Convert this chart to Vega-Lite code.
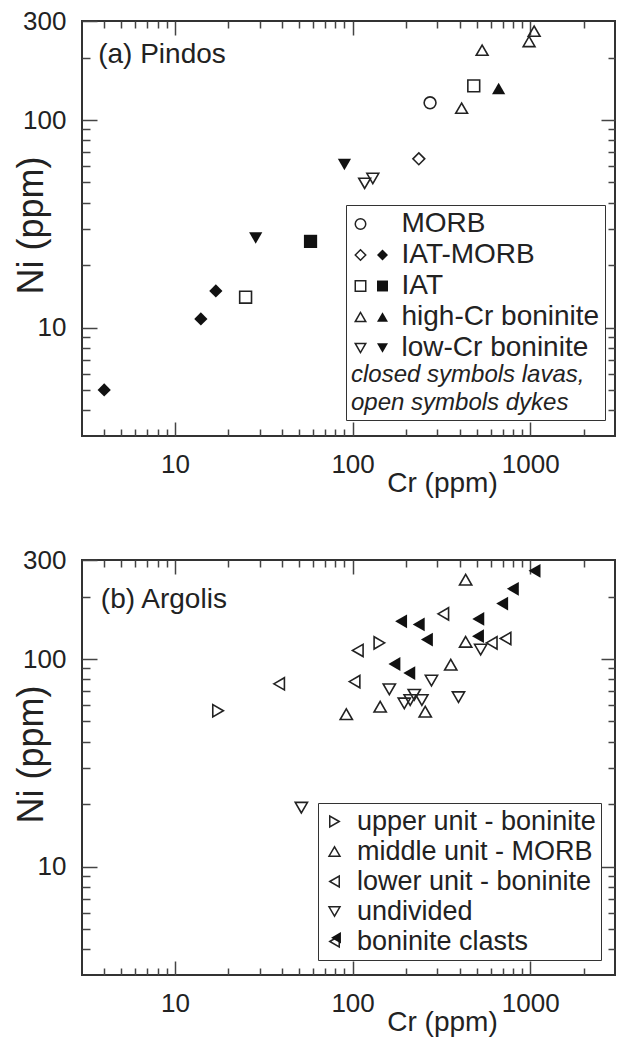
{
  "$schema": "https://vega.github.io/schema/vega-lite/v6.json",
  "padding": {"left": 12, "top": 7, "right": 0, "bottom": 0},
  "bounds": "flush",
  "spacing": 124,
  "config": {
    "font": "Liberation Sans",
    "view": {"stroke": "#333", "strokeWidth": 2},
    "axis": {
      "grid": false, "domain": false,
      "labelFont": "Liberation Sans", "labelFontSize": 26, "labelColor": "#222",
      "tickColor": "#444", "tickWidth": 1.5,
      "titleFont": "Liberation Sans", "titleFontWeight": "normal", "titleColor": "#222",
      "labelFlush": false, "labelOverlap": false
    },
    "legend": {
      "labelFont": "Liberation Sans", "titleFont": "Liberation Sans",
      "labelColor": "#222", "titleColor": "#222", "labelLimit": 400, "titleLimit": 400
    }
  },
  "datasets": {
    "pindos": [
      {"Cr": 4, "Ni": 5, "type": "IAT-MORB", "form": "lava"},
      {"Cr": 14, "Ni": 11, "type": "IAT-MORB", "form": "lava"},
      {"Cr": 17, "Ni": 15, "type": "IAT-MORB", "form": "lava"},
      {"Cr": 58, "Ni": 26, "type": "IAT", "form": "lava"},
      {"Cr": 28.5, "Ni": 27, "type": "low-Cr boninite", "form": "lava"},
      {"Cr": 90, "Ni": 61, "type": "low-Cr boninite", "form": "lava"},
      {"Cr": 664, "Ni": 142, "type": "high-Cr boninite", "form": "lava"},
      {"Cr": 25, "Ni": 14, "type": "IAT", "form": "dyke"},
      {"Cr": 481, "Ni": 146, "type": "IAT", "form": "dyke"},
      {"Cr": 117, "Ni": 49.5, "type": "low-Cr boninite", "form": "dyke"},
      {"Cr": 130, "Ni": 52.3, "type": "low-Cr boninite", "form": "dyke"},
      {"Cr": 236, "Ni": 65, "type": "IAT-MORB", "form": "dyke"},
      {"Cr": 273, "Ni": 121, "type": "MORB", "form": "dyke"},
      {"Cr": 411, "Ni": 114, "type": "high-Cr boninite", "form": "dyke"},
      {"Cr": 536, "Ni": 217, "type": "high-Cr boninite", "form": "dyke"},
      {"Cr": 985, "Ni": 239, "type": "high-Cr boninite", "form": "dyke"},
      {"Cr": 1052, "Ni": 268, "type": "high-Cr boninite", "form": "dyke"}
    ],
    "argolis": [
      {"Cr": 17.5, "Ni": 56.3, "group": "upper unit - boninite"},
      {"Cr": 141.6, "Ni": 119.6, "group": "upper unit - boninite"},
      {"Cr": 433, "Ni": 241, "group": "middle unit - MORB"},
      {"Cr": 433, "Ni": 121, "group": "middle unit - MORB"},
      {"Cr": 357, "Ni": 93.8, "group": "middle unit - MORB"},
      {"Cr": 92.2, "Ni": 54.2, "group": "middle unit - MORB"},
      {"Cr": 143, "Ni": 58.9, "group": "middle unit - MORB"},
      {"Cr": 256.5, "Ni": 55.7, "group": "middle unit - MORB"},
      {"Cr": 38.6, "Ni": 75.9, "group": "lower unit - boninite"},
      {"Cr": 324, "Ni": 165, "group": "lower unit - boninite"},
      {"Cr": 107, "Ni": 110, "group": "lower unit - boninite"},
      {"Cr": 102.6, "Ni": 77.8, "group": "lower unit - boninite"},
      {"Cr": 607, "Ni": 119.6, "group": "lower unit - boninite"},
      {"Cr": 726, "Ni": 125.6, "group": "lower unit - boninite"},
      {"Cr": 51.5, "Ni": 19.2, "group": "undivided"},
      {"Cr": 526, "Ni": 111, "group": "undivided"},
      {"Cr": 278, "Ni": 78.7, "group": "undivided"},
      {"Cr": 161, "Ni": 71.5, "group": "undivided"},
      {"Cr": 394.6, "Ni": 65.5, "group": "undivided"},
      {"Cr": 195.5, "Ni": 61.1, "group": "undivided"},
      {"Cr": 211, "Ni": 63.4, "group": "undivided"},
      {"Cr": 222.5, "Ni": 67.2, "group": "undivided"},
      {"Cr": 245.5, "Ni": 63.4, "group": "undivided"},
      {"Cr": 1057, "Ni": 266, "group": "boninite clasts"},
      {"Cr": 798, "Ni": 218, "group": "boninite clasts"},
      {"Cr": 695, "Ni": 185, "group": "boninite clasts"},
      {"Cr": 510, "Ni": 156, "group": "boninite clasts"},
      {"Cr": 508, "Ni": 128.8, "group": "boninite clasts"},
      {"Cr": 187.5, "Ni": 152, "group": "boninite clasts"},
      {"Cr": 235.6, "Ni": 146.8, "group": "boninite clasts"},
      {"Cr": 262, "Ni": 124, "group": "boninite clasts"},
      {"Cr": 172, "Ni": 94.6, "group": "boninite clasts"},
      {"Cr": 208.5, "Ni": 85.5, "group": "boninite clasts"}
    ]
  },
  "vconcat": [
    {
      "width": 533, "height": 415,
      "layer": [
        {
          "data": {"name": "pindos"},
          "transform": [{"filter": "datum.form === 'dyke'"}],
          "mark": {"type": "point", "filled": false, "stroke": "#222", "strokeWidth": 1.6, "size": 140, "opacity": 1},
          "encoding": {
            "x": {"field": "Cr", "type": "quantitative", "scale": {"type": "log", "domain": [3, 3000], "nice": false},
              "axis": {"orient": "bottom", "values": [4,5,6,7,8,9,10,20,30,40,50,60,70,80,90,100,200,300,400,500,600,700,800,900,1000,2000],
                "labelExpr": "datum.value == 10 || datum.value == 100 || datum.value == 1000 ? '' + datum.value : ''",
                "tickSize": {"condition": {"test": "datum.value == 10 || datum.value == 100 || datum.value == 1000", "value": -14}, "value": -7},
                "labelPadding": 29, "title": "Cr (ppm)", "titleFontSize": 28, "titleX": 360, "titleY": 55, "titleBaseline": "alphabetic", "titleAlign": "center"}},
            "y": {"field": "Ni", "type": "quantitative", "scale": {"type": "log", "domain": [3, 300], "nice": false},
              "axis": {"orient": "left", "values": [4,5,6,7,8,9,10,20,30,40,50,60,70,80,90,100,200,300],
                "labelExpr": "datum.value == 10 || datum.value == 100 || datum.value == 300 ? '' + datum.value : ''",
                "tickSize": {"condition": {"test": "datum.value == 10 || datum.value == 100 || datum.value == 300", "value": -15}, "value": -8},
                "labelPadding": 31, "title": "Ni (ppm)", "titleFontSize": 36, "titleX": -40, "titleY": 204, "titleBaseline": "alphabetic", "titleAlign": "center", "titleAngle": -90}},
            "shape": {"field": "type", "type": "nominal",
              "scale": {"domain": ["MORB", "IAT-MORB", "IAT", "high-Cr boninite", "low-Cr boninite"], "range": ["circle", "diamond", "square", "triangle-up", "triangle-down"]},
              "legend": {"orient": "none", "legendX": 264, "legendY": 184,
                "title": ["closed symbols lavas,", "open symbols dykes"], "titleOrient": "bottom", "titleAnchor": "start",
                "titleFontStyle": "italic", "titleFontWeight": "normal", "titleFontSize": 24, "titleLineHeight": 28, "titlePadding": 1,
                "labelFontSize": 28, "labelOffset": 27, "symbolOffset": -4.5, "symbolSize": 110, "symbolStrokeWidth": 1.5,
                "symbolStrokeColor": "#222", "symbolFillColor": "transparent", "rowPadding": 3, "padding": 5,
                "fillColor": "white", "strokeColor": "#333",
                "encode": {"legend": {"update": {"strokeWidth": {"value": 2}}}}}}
          }
        },
        {
          "data": {"name": "pindos"},
          "transform": [{"filter": "datum.form === 'lava'"}],
          "mark": {"type": "point", "filled": true, "color": "#111", "size": 175, "opacity": 1},
          "encoding": {
            "x": {"field": "Cr", "type": "quantitative", "scale": {"type": "log", "domain": [3, 3000], "nice": false},
              "axis": {"orient": "top", "values": [4,5,6,7,8,9,10,20,30,40,50,60,70,80,90,100,200,300,400,500,600,700,800,900,1000,2000],
                "labels": false, "title": null,
                "tickSize": {"condition": {"test": "datum.value == 10 || datum.value == 100 || datum.value == 1000", "value": -14}, "value": -7}}},
            "y": {"field": "Ni", "type": "quantitative", "scale": {"type": "log", "domain": [3, 300], "nice": false},
              "axis": {"orient": "right", "values": [4,5,6,7,8,9,10,20,30,40,50,60,70,80,90,100,200],
                "labels": false, "title": null,
                "tickSize": {"condition": {"test": "datum.value == 10 || datum.value == 100", "value": -14}, "value": -7}}},
            "shape": {"field": "type", "type": "nominal",
              "scale": {"domain": ["IAT-MORB", "IAT", "high-Cr boninite", "low-Cr boninite"], "range": ["diamond", "square", "triangle-up", "triangle-down"]},
              "legend": {"orient": "none", "legendX": 264, "legendY": 223.5, "title": null,
                "labelExpr": "''", "labelFontSize": 1, "labelOffset": 0, "symbolOffset": 26, "symbolSize": 120,
                "symbolFillColor": "#111", "symbolStrokeColor": "#111", "symbolStrokeWidth": 0, "rowPadding": 20, "padding": 5}}
          }
        },
        {
          "data": {"values": [{}]},
          "mark": {"type": "text", "align": "left", "baseline": "alphabetic", "fontSize": 28, "color": "#222", "font": "Liberation Sans"},
          "encoding": {
            "x": {"datum": 3.7, "type": "quantitative", "axis": null},
            "y": {"datum": 189, "type": "quantitative", "axis": null},
            "text": {"value": "(a) Pindos"}
          }
        }
      ],
      "resolve": {"scale": {"shape": "independent"}, "legend": {"shape": "independent"}, "axis": {"x": "independent", "y": "independent"}}
    },
    {
      "width": 533, "height": 415,
      "layer": [
        {
          "data": {"name": "argolis"},
          "transform": [{"filter": "datum.group !== 'boninite clasts'"}],
          "mark": {"type": "point", "filled": false, "stroke": "#222", "strokeWidth": 1.6, "size": 150, "opacity": 1},
          "encoding": {
            "x": {"field": "Cr", "type": "quantitative", "scale": {"type": "log", "domain": [3, 3000], "nice": false},
              "axis": {"orient": "bottom", "values": [4,5,6,7,8,9,10,20,30,40,50,60,70,80,90,100,200,300,400,500,600,700,800,900,1000,2000],
                "labelExpr": "datum.value == 10 || datum.value == 100 || datum.value == 1000 ? '' + datum.value : ''",
                "tickSize": {"condition": {"test": "datum.value == 10 || datum.value == 100 || datum.value == 1000", "value": -14}, "value": -7},
                "labelPadding": 29, "title": "Cr (ppm)", "titleFontSize": 28, "titleX": 360, "titleY": 55, "titleBaseline": "alphabetic", "titleAlign": "center"}},
            "y": {"field": "Ni", "type": "quantitative", "scale": {"type": "log", "domain": [3, 300], "nice": false},
              "axis": {"orient": "left", "values": [4,5,6,7,8,9,10,20,30,40,50,60,70,80,90,100,200,300],
                "labelExpr": "datum.value == 10 || datum.value == 100 || datum.value == 300 ? '' + datum.value : ''",
                "tickSize": {"condition": {"test": "datum.value == 10 || datum.value == 100 || datum.value == 300", "value": -15}, "value": -8},
                "labelPadding": 31, "title": "Ni (ppm)", "titleFontSize": 36, "titleX": -40, "titleY": 194, "titleBaseline": "alphabetic", "titleAlign": "center", "titleAngle": -90}},
            "shape": {"field": "group", "type": "nominal",
              "scale": {"domain": ["upper unit - boninite", "middle unit - MORB", "lower unit - boninite", "undivided", "boninite clasts"], "range": ["triangle-right", "triangle-up", "triangle-left", "triangle-down", "triangle-left"]},
              "legend": {"orient": "none", "legendX": 236, "legendY": 243, "title": null,
                "labelFontSize": 27, "labelOffset": 9, "symbolOffset": -2, "symbolSize": 120, "symbolStrokeWidth": 1.5,
                "symbolStrokeColor": "#222", "symbolFillColor": "transparent", "rowPadding": 2, "padding": 5,
                "fillColor": "white", "strokeColor": "#333",
                "encode": {"legend": {"update": {"strokeWidth": {"value": 2}}}}}}
          }
        },
        {
          "data": {"name": "argolis"},
          "transform": [{"filter": "datum.group === 'boninite clasts'"}],
          "mark": {"type": "point", "filled": true, "color": "#111", "size": 190, "opacity": 1},
          "encoding": {
            "x": {"field": "Cr", "type": "quantitative", "scale": {"type": "log", "domain": [3, 3000], "nice": false},
              "axis": {"orient": "top", "values": [4,5,6,7,8,9,10,20,30,40,50,60,70,80,90,100,200,300,400,500,600,700,800,900,1000,2000],
                "labels": false, "title": null,
                "tickSize": {"condition": {"test": "datum.value == 10 || datum.value == 100 || datum.value == 1000", "value": -14}, "value": -7}}},
            "y": {"field": "Ni", "type": "quantitative", "scale": {"type": "log", "domain": [3, 300], "nice": false},
              "axis": {"orient": "right", "values": [4,5,6,7,8,9,10,20,30,40,50,60,70,80,90,100,200],
                "labels": false, "title": null,
                "tickSize": {"condition": {"test": "datum.value == 10 || datum.value == 100", "value": -14}, "value": -7}}},
            "shape": {"field": "group", "type": "nominal",
              "scale": {"domain": ["boninite clasts"], "range": ["triangle-left"]},
              "legend": {"orient": "none", "legendX": 236, "legendY": 366.8, "title": null,
                "labelExpr": "''", "labelFontSize": 1, "labelOffset": 0, "symbolOffset": 7, "symbolSize": 130,
                "symbolFillColor": "#111", "symbolStrokeColor": "#111", "symbolStrokeWidth": 0, "rowPadding": 2, "padding": 5}}
          }
        },
        {
          "data": {"values": [{}]},
          "mark": {"type": "text", "align": "left", "baseline": "alphabetic", "fontSize": 28, "color": "#222", "font": "Liberation Sans"},
          "encoding": {
            "x": {"datum": 3.83, "type": "quantitative", "axis": null},
            "y": {"datum": 176, "type": "quantitative", "axis": null},
            "text": {"value": "(b) Argolis"}
          }
        }
      ],
      "resolve": {"scale": {"shape": "independent"}, "legend": {"shape": "independent"}, "axis": {"x": "independent", "y": "independent"}}
    }
  ]
}
